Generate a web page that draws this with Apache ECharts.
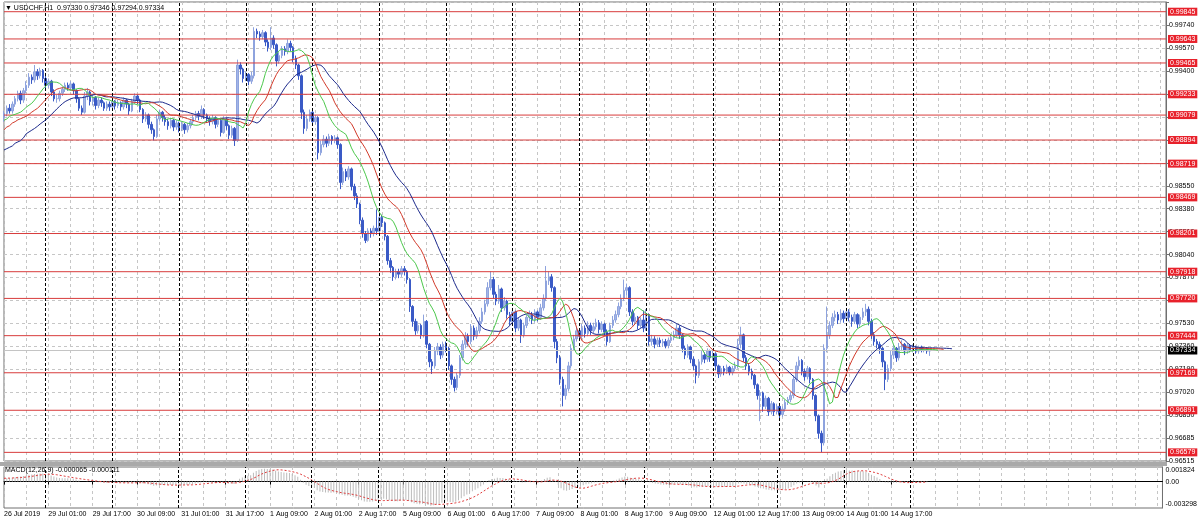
<!DOCTYPE html>
<html><head><meta charset="utf-8">
<script src="https://cdn.jsdelivr.net/npm/echarts@6/dist/echarts.min.js"></script>
<style>html,body{margin:0;padding:0;background:#fff}#c{width:1200px;height:523px}</style>
</head><body><div id="c"></div>
<script>
// ---------------- DATA ----------------
const symbolName = 'USDCHF,H1';
const firstOpen = 0.9906;
const closes = [
0.9909,0.9913,0.9911,0.9916,0.9920,0.9924,0.9919,0.9926,0.9930,0.9936,
0.9934,0.9940,0.9937,0.9941,0.9935,0.9930,0.9933,0.9925,0.9920,0.9920,
0.9924,0.9927,0.9930,0.9928,0.9931,0.9926,0.9920,0.9913,0.9910,0.9922,
0.9925,0.9918,0.9921,0.9915,0.9919,0.9917,0.9913,0.9916,0.9914,0.9918,
0.9915,0.9917,0.9914,0.9919,0.9916,0.9911,0.9918,0.9922,0.9919,0.9912,
0.9905,0.9908,0.9901,0.9897,0.9892,0.9905,0.9910,0.9906,0.9903,0.9900,
0.9904,0.9899,0.9902,0.9898,0.9901,0.9897,0.9900,0.9903,0.9906,0.9909,
0.9907,0.9912,0.9908,0.9905,0.9903,0.9906,0.9901,0.9904,0.9895,0.9905,
0.9900,0.9893,0.9898,0.9889,0.9945,0.9942,0.9935,0.9938,0.9933,0.9937,
0.9970,0.9968,0.9966,0.9969,0.9962,0.9958,0.9965,0.9960,0.9948,0.9952,
0.9957,0.9955,0.9961,0.9958,0.9950,0.9945,0.9937,0.9910,0.9898,0.9905,
0.9910,0.9903,0.9906,0.9880,0.9886,0.9890,0.9887,0.9892,0.9889,0.9891,
0.9886,0.9858,0.9866,0.9862,0.9868,0.9855,0.9848,0.9842,0.9830,0.9820,
0.9815,0.9822,0.9820,0.9824,0.9822,0.9832,0.9828,0.9818,0.9800,0.9795,
0.9788,0.9792,0.9790,0.9794,0.9792,0.9786,0.9766,0.9755,0.9748,0.9752,
0.9745,0.9755,0.9738,0.9725,0.9722,0.9733,0.9736,0.9730,0.9738,0.9735,
0.9722,0.9712,0.9706,0.9715,0.9728,0.9738,0.9744,0.9740,0.9750,0.9744,
0.9748,0.9755,0.9762,0.9768,0.9780,0.9786,0.9775,0.9770,0.9779,0.9765,
0.9770,0.9760,0.9755,0.9762,0.9750,0.9756,0.9745,0.9752,0.9758,0.9760,
0.9756,0.9762,0.9758,0.9765,0.9772,0.9785,0.9788,0.9780,0.9740,0.9728,
0.9712,0.9700,0.9705,0.9722,0.9735,0.9742,0.9748,0.9744,0.9750,0.9746,
0.9752,0.9748,0.9751,0.9754,0.9749,0.9753,0.9747,0.9740,0.9752,0.9756,
0.9760,0.9766,0.9772,0.9778,0.9780,0.9762,0.9755,0.9758,0.9752,0.9756,
0.9750,0.9760,0.9740,0.9742,0.9738,0.9741,0.9739,0.9740,0.9737,0.9741,
0.9743,0.9745,0.9750,0.9745,0.9735,0.9730,0.9736,0.9727,0.9722,0.9715,
0.9725,0.9730,0.9727,0.9733,0.9728,0.9731,0.9722,0.9716,0.9720,0.9718,
0.9721,0.9717,0.9720,0.9722,0.9738,0.9745,0.9728,0.9722,0.9718,0.9715,
0.9708,0.9700,0.9702,0.9692,0.9698,0.9688,0.9694,0.9688,0.9692,0.9686,
0.9690,0.9695,0.9697,0.9700,0.9712,0.9722,0.9726,0.9718,0.9714,0.9720,
0.9712,0.9700,0.9685,0.9672,0.9665,0.9735,0.9745,0.9752,0.9758,0.9760,
0.9756,0.9761,0.9757,0.9762,0.9758,0.9755,0.9760,0.9753,0.9758,0.9762,
0.9764,0.9755,0.9745,0.9740,0.9738,0.9735,0.9725,0.9712,0.9720,0.9730,
0.9735,0.9728,0.9736,0.9738,0.9733,0.9737,0.9734,0.9736,0.9733,0.9736,
0.9734,0.9735,0.9733,0.97334];
const highs = [
0.9911,0.9915,0.9916,0.9918,0.9922,0.9926,0.9926,0.9928,0.9933,0.9939,
0.9938,0.9945,0.9942,0.9943,0.9942,0.9937,0.9935,0.9934,0.9927,0.9923,
0.9926,0.9929,0.9932,0.9932,0.9933,0.9932,0.9927,0.9921,0.9915,0.9925,
0.9928,0.9926,0.9923,0.9922,0.9921,0.9921,0.9918,0.9918,0.9918,0.9920,
0.9919,0.9919,0.9918,0.9921,0.9920,0.9917,0.9920,0.9924,0.9923,0.9920,
0.9913,0.9910,0.9909,0.9903,0.9898,0.9908,0.9912,0.9911,0.9908,0.9905,
0.9906,0.9905,0.9904,0.9903,0.9903,0.9902,0.9902,0.9905,0.9908,0.9911,
0.9911,0.9915,0.9913,0.9909,0.9907,0.9908,0.9907,0.9906,0.9905,0.9907,
0.9906,0.9901,0.9900,0.9899,0.9949,0.9947,0.9943,0.9940,0.9939,0.9940,
0.9973,0.9972,0.9970,0.9971,0.9970,0.9964,0.9973,0.9967,0.9961,0.9955,
0.9959,0.9959,0.9964,0.9963,0.9959,0.9952,0.9946,0.9938,0.9912,0.9908,
0.9912,0.9911,0.9908,0.9907,0.9889,0.9893,0.9892,0.9894,0.9893,0.9893,
0.9892,0.9887,0.9869,0.9868,0.9870,0.9869,0.9857,0.9850,0.9843,0.9832,
0.9822,0.9824,0.9824,0.9826,0.9838,0.9836,0.9834,0.9829,0.9819,0.9802,
0.9796,0.9794,0.9794,0.9796,0.9796,0.9793,0.9787,0.9767,0.9757,0.9755,
0.9753,0.9760,0.9756,0.9739,0.9727,0.9736,0.9739,0.9738,0.9740,0.9740,
0.9736,0.9723,0.9714,0.9717,0.9730,0.9741,0.9747,0.9746,0.9753,0.9752,
0.9751,0.9758,0.9765,0.9771,0.9784,0.9792,0.9788,0.9777,0.9782,0.9780,
0.9773,0.9771,0.9762,0.9765,0.9763,0.9758,0.9757,0.9754,0.9760,0.9763,
0.9762,0.9764,0.9763,0.9768,0.9775,0.9796,0.9792,0.9790,0.9781,0.9742,
0.9730,0.9714,0.9708,0.9725,0.9738,0.9745,0.9751,0.9750,0.9753,0.9752,
0.9755,0.9754,0.9754,0.9757,0.9756,0.9755,0.9754,0.9749,0.9754,0.9759,
0.9763,0.9769,0.9775,0.9786,0.9783,0.9781,0.9764,0.9761,0.9759,0.9758,
0.9763,0.9764,0.9761,0.9745,0.9744,0.9743,0.9743,0.9742,0.9742,0.9743,
0.9745,0.9748,0.9753,0.9752,0.9746,0.9737,0.9738,0.9737,0.9729,0.9723,
0.9727,0.9733,0.9732,0.9735,0.9734,0.9734,0.9732,0.9723,0.9722,0.9722,
0.9723,0.9722,0.9722,0.9725,0.9742,0.9751,0.9746,0.9730,0.9724,0.9720,
0.9716,0.9709,0.9704,0.9703,0.9700,0.9699,0.9696,0.9695,0.9694,0.9693,
0.9692,0.9697,0.9699,0.9703,0.9715,0.9725,0.9729,0.9727,0.9720,0.9722,
0.9721,0.9713,0.9701,0.9686,0.9674,0.9738,0.9766,0.9755,0.9761,0.9763,
0.9762,0.9764,0.9763,0.9765,0.9764,0.9760,0.9762,0.9761,0.9760,0.9765,
0.9768,0.9766,0.9757,0.9747,0.9742,0.9740,0.9736,0.9726,0.9723,0.9733,
0.9738,0.9736,0.9739,0.9741,0.9739,0.9739,0.9738,0.9738,0.9737,0.9737,
0.9737,0.9736,0.9736,0.97346];
const lows = [
0.9903,0.9907,0.9909,0.9909,0.9914,0.9918,0.9916,0.9917,0.9924,0.9928,
0.9931,0.9932,0.9934,0.9935,0.9932,0.9927,0.9928,0.9922,0.9918,0.9917,
0.9918,0.9922,0.9925,0.9926,0.9926,0.9923,0.9917,0.9911,0.9908,0.9909,
0.9919,0.9915,0.9915,0.9912,0.9913,0.9914,0.9911,0.9911,0.9911,0.9912,
0.9912,0.9913,0.9911,0.9912,0.9913,0.9908,0.9910,0.9916,0.9916,0.9910,
0.9902,0.9903,0.9898,0.9894,0.9889,0.9891,0.9903,0.9903,0.9900,0.9897,
0.9898,0.9896,0.9897,0.9895,0.9896,0.9894,0.9895,0.9898,0.9901,0.9904,
0.9904,0.9905,0.9905,0.9902,0.9900,0.9901,0.9898,0.9899,0.9892,0.9894,
0.9897,0.9890,0.9891,0.9885,0.9888,0.9938,0.9932,0.9933,0.9930,0.9931,
0.9935,0.9965,0.9963,0.9964,0.9959,0.9955,0.9956,0.9957,0.9944,0.9946,
0.9950,0.9952,0.9953,0.9955,0.9947,0.9942,0.9934,0.9905,0.9894,0.9896,
0.9903,0.9900,0.9901,0.9875,0.9878,0.9884,0.9884,0.9885,0.9886,0.9887,
0.9883,0.9853,0.9856,0.9859,0.9860,0.9852,0.9845,0.9839,0.9827,0.9817,
0.9813,0.9814,0.9817,0.9818,0.9819,0.9820,0.9825,0.9815,0.9797,0.9791,
0.9785,0.9786,0.9787,0.9788,0.9789,0.9783,0.9762,0.9751,0.9745,0.9746,
0.9742,0.9743,0.9735,0.9721,0.9716,0.9720,0.9730,0.9727,0.9728,0.9732,
0.9719,0.9708,0.9703,0.9704,0.9713,0.9726,0.9735,0.9737,0.9738,0.9741,
0.9742,0.9746,0.9753,0.9760,0.9766,0.9778,0.9772,0.9767,0.9768,0.9762,
0.9763,0.9757,0.9752,0.9753,0.9747,0.9748,0.9739,0.9743,0.9750,0.9755,
0.9753,0.9754,0.9755,0.9756,0.9763,0.9770,0.9782,0.9777,0.9735,0.9724,
0.9708,0.9692,0.9697,0.9703,0.9720,0.9733,0.9740,0.9741,0.9742,0.9743,
0.9744,0.9745,0.9746,0.9749,0.9746,0.9747,0.9744,0.9737,0.9739,0.9750,
0.9754,0.9758,0.9764,0.9770,0.9774,0.9759,0.9752,0.9753,0.9749,0.9750,
0.9747,0.9748,0.9737,0.9737,0.9735,0.9736,0.9736,0.9736,0.9735,0.9735,
0.9739,0.9741,0.9743,0.9742,0.9732,0.9727,0.9728,0.9724,0.9719,0.9709,
0.9713,0.9723,0.9724,0.9725,0.9725,0.9726,0.9719,0.9713,0.9714,0.9715,
0.9716,0.9715,0.9715,0.9718,0.9720,0.9735,0.9725,0.9719,0.9715,0.9712,
0.9705,0.9697,0.9681,0.9688,0.9690,0.9685,0.9686,0.9685,0.9686,0.9683,
0.9684,0.9688,0.9693,0.9695,0.9698,0.9710,0.9719,0.9715,0.9711,0.9712,
0.9709,0.9697,0.9681,0.9668,0.9658,0.9663,0.9732,0.9742,0.9750,0.9755,
0.9753,0.9754,0.9754,0.9755,0.9755,0.9751,0.9753,0.9750,0.9751,0.9756,
0.9759,0.9752,0.9742,0.9737,0.9735,0.9731,0.9721,0.9704,0.9710,0.9718,
0.9727,0.9725,0.9726,0.9733,0.9730,0.9731,0.9732,0.9732,0.9731,0.9731,
0.9732,0.9732,0.9731,0.97294];

const timeLabels = ['26 Jul 2019','29 Jul 01:00','29 Jul 17:00','30 Jul 09:00','31 Jul 01:00','31 Jul 17:00',
 '1 Aug 09:00','2 Aug 01:00','2 Aug 17:00','5 Aug 09:00','6 Aug 01:00','6 Aug 17:00','7 Aug 09:00',
 '8 Aug 01:00','8 Aug 17:00','9 Aug 09:00','12 Aug 01:00','12 Aug 17:00','13 Aug 09:00','14 Aug 01:00','14 Aug 17:00'];
const barsPerLabel = 16;
const barsPerGridLine = 8;
const totalSlots = 419;
const daySeparators = [15,39,63,87,111,135,159,183,207,231,255,279,303,327];
const priceTickLabels = ['0.99740','0.99570','0.99400','0.99230','0.99060','0.98890','0.98720','0.98550','0.98380',
 '0.98210','0.98040','0.97870','0.97700','0.97530','0.97360','0.97190','0.97020','0.96850','0.96685','0.96515'];
const priceMin = 0.96515, priceMax = 0.99917, priceStep = 0.0017;
const srLevels = [0.99845,0.99643,0.99465,0.99233,0.99079,0.98894,0.98719,0.98469,0.98201,0.97918,0.97720,0.97444,0.97169,0.96891,0.96579];
const bidPrice = 0.97334;
const macdMax = 0.001824, macdMin = -0.003298;
const macdTitle = 'MACD(12,26,9) -0.000065 -0.000111';
const lipsStart = [0.9904,0.9905,0.9907], lipsSeed = 0.9908;
const teethStart = [0.9897,0.9899,0.9900,0.9902,0.9903], teethSeed = 0.9904;
const jawStart = [0.9882,0.9883,0.9884,0.9885,0.9887,0.9888,0.9889,0.9891], jawSeed = 0.9893;
const ema12Seed = 0.9904, ema26Seed = 0.9900;

// ---------------- derived ----------------
const n = closes.length;
const opens = closes.map((c, i) => i === 0 ? firstOpen : closes[i - 1]);
const cats = Array.from({length: totalSlots}, (_, i) => String(i));
const candles = closes.map((c, i) => [opens[i], c, lows[i], highs[i]]);
const median = closes.map((c, i) => (highs[i] + lows[i]) / 2);
function smmaShifted(period, start, seed) {
  const shift = start.length;
  const out = new Array(totalSlots).fill(null);
  start.forEach((v, i) => out[i] = v);
  let s = seed;
  for (let j = 0; j < n; j++) { s = (s * (period - 1) + median[j]) / period; if (j + shift < totalSlots) out[j + shift] = s; }
  return out;
}
const lips = smmaShifted(5, lipsStart, lipsSeed);
const teeth = smmaShifted(8, teethStart, teethSeed);
const jaw = smmaShifted(13, jawStart, jawSeed);
let e12 = ema12Seed, e26 = ema26Seed;
const macd = [], signal = [];
for (let j = 0; j < n; j++) {
  e12 += (2 / 13) * (closes[j] - e12);
  e26 += (2 / 27) * (closes[j] - e26);
  macd.push(e12 - e26);
  const from = Math.max(0, j - 8);
  let sum = 0; for (let k = from; k <= j; k++) sum += macd[k];
  signal.push(sum / (j - from + 1));
}

const FONT = 'Liberation Sans';
const FS = 7;
const gridLineStyle = {color: '#c6c6c6', type: [3, 3], width: 1};
const isGridIdx = (i) => i % barsPerGridLine === 0;
const isLabelIdx = (i) => i % barsPerLabel === 0 && i / barsPerLabel < timeLabels.length;

function levelSeries(v, lineColor, boxColor) {
  return {
    type: 'line', xAxisIndex: 0, yAxisIndex: 0, silent: true, showSymbol: false, symbol: 'none', z: 4,
    data: [[cats[0], v], [cats[totalSlots - 1], v]],
    lineStyle: {color: lineColor, width: 1, type: 'solid'},
    endLabel: {show: true, distance: 2, formatter: v.toFixed(5), color: '#fff', backgroundColor: boxColor,
               padding: [1, 2, 0, 2], fontSize: FS, fontFamily: FONT}
  };
}
const levelSeriesList = srLevels.map(v => levelSeries(v, '#d83c3c', '#e8212b'));
levelSeriesList.unshift(levelSeries(bidPrice, '#c4c4c4', '#000000'));
const sepLines = daySeparators.map(i => ({xAxis: cats[i], lineStyle: {color: '#000', width: 1, type: [3, 2]}, label: {show: false}}));

const last = n - 1;
const titleText = '\u25BC ' + symbolName + '  ' + [opens[last], highs[last], lows[last], closes[last]].map(v => v.toFixed(5)).join(' ');

const chart = echarts.init(document.getElementById('c'), null, {renderer: 'canvas'});
chart.setOption({
  animation: false,
  backgroundColor: '#ffffff',
  textStyle: {fontFamily: FONT},
  title: [
    {text: titleText, left: 5, top: 5, padding: 0, textStyle: {fontSize: FS, fontWeight: 'normal', color: '#000', fontFamily: FONT}},
    {text: macdTitle, left: 5, top: 467, padding: 0, textStyle: {fontSize: FS, fontWeight: 'normal', color: '#000', fontFamily: FONT}}
  ],
  grid: [
    {left: 4, right: 34, top: 2, height: 459, show: true, backgroundColor: '#fff', borderColor: '#707070', borderWidth: 1},
    {left: 4, right: 34, top: 467, height: 41, show: true, backgroundColor: '#fff', borderColor: '#707070', borderWidth: 1}
  ],
  graphic: [{type: 'rect', shape: {x: 0, y: 462, width: 1167, height: 4}, style: {fill: '#a9a9a9'}, silent: true}],
  xAxis: [
    {type: 'category', gridIndex: 0, data: cats, boundaryGap: false, axisLine: {show: false}, axisTick: {show: false},
     axisLabel: {show: false}, splitLine: {show: true, interval: isGridIdx, lineStyle: gridLineStyle}},
    {type: 'category', gridIndex: 1, data: cats, boundaryGap: false,
     axisLine: {show: true, lineStyle: {color: '#000'}},
     axisTick: {show: true, interval: isLabelIdx, length: 3, lineStyle: {color: '#000'}},
     axisLabel: {show: true, interval: isLabelIdx, formatter: (v, i) => timeLabels[Math.round(Number(v) / barsPerLabel)] || '',
                 align: 'left', margin: 3, fontSize: FS, color: '#000', fontFamily: FONT},
     splitLine: {show: true, interval: isGridIdx, lineStyle: gridLineStyle}}
  ],
  yAxis: [
    {type: 'value', gridIndex: 0, position: 'right', min: priceMin, max: priceMax, interval: priceStep,
     axisLine: {show: true, lineStyle: {color: '#707070'}},
     axisTick: {show: true, length: 3, lineStyle: {color: '#707070'}},
     axisLabel: {show: true, margin: 3, fontSize: FS, color: '#000', fontFamily: FONT,
       formatter: (v) => { for (const l of priceTickLabels) { if (Math.abs(parseFloat(l) - v) < 0.00008) return l; } return ''; }},
     splitLine: {show: true, lineStyle: gridLineStyle}},
    {type: 'value', gridIndex: 1, position: 'right', min: macdMin, max: macdMax, interval: -macdMin / 2,
     axisLine: {show: true, lineStyle: {color: '#707070'}},
     axisTick: {show: false},
     axisLabel: {show: true, margin: 3, fontSize: FS, color: '#000', fontFamily: FONT,
       verticalAlignMaxLabel: 'top', verticalAlignMinLabel: 'bottom',
       formatter: (v) => Math.abs(v - macdMax) < 1e-7 ? macdMax.toFixed(6) : Math.abs(v - macdMin) < 1e-7 ? macdMin.toFixed(6) : Math.abs(v) < 1e-7 ? '0.00' : ''},
     splitLine: {show: false}}
  ],
  series: [
    {type: 'candlestick', xAxisIndex: 0, yAxisIndex: 0, data: candles, barWidth: 2,
     itemStyle: {color: '#a3b5e6', borderColor: '#8ea3de', color0: '#3a5ac6', borderColor0: '#3a5ac6', borderWidth: 1},
     markLine: {silent: true, symbol: ['none', 'none'], animation: false, data: sepLines}},
    {type: 'line', xAxisIndex: 0, yAxisIndex: 0, data: jaw, showSymbol: false, lineStyle: {color: '#1d2a8c', width: 1}, z: 5},
    {type: 'line', xAxisIndex: 0, yAxisIndex: 0, data: teeth, showSymbol: false, lineStyle: {color: '#d23a2a', width: 1}, z: 5},
    {type: 'line', xAxisIndex: 0, yAxisIndex: 0, data: lips, showSymbol: false, lineStyle: {color: '#4cc84c', width: 1}, z: 5},
    {type: 'bar', xAxisIndex: 1, yAxisIndex: 1, data: macd, barWidth: 1, itemStyle: {color: '#bcbcbc'},
     markLine: {silent: true, symbol: ['none', 'none'], animation: false, data: sepLines}},
    {type: 'line', xAxisIndex: 1, yAxisIndex: 1, data: signal, showSymbol: false, lineStyle: {color: '#e03a3a', width: 1, type: [2, 2]}}
  ].concat(levelSeriesList)
});
</script></body></html>
